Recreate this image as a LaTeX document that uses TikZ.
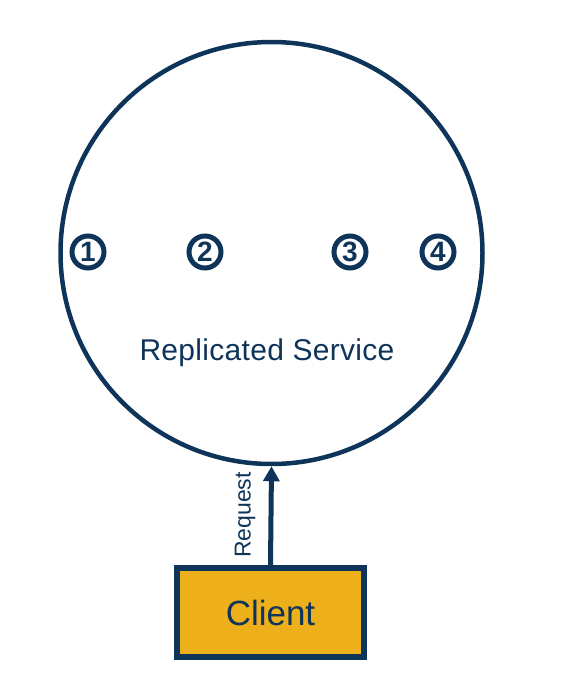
\documentclass[tikz,border=0pt]{standalone}
\usepackage{fontspec}
\setmainfont{Liberation Sans}
\usetikzlibrary{arrows.meta}
\definecolor{navy}{HTML}{0E3459}
\definecolor{gold}{HTML}{EDB01A}
\begin{document}
\begin{tikzpicture}[
    x=1pt, y=-1pt,
    ringstyle/.style={circle, draw=navy, line width=4.5pt, minimum size=422pt, inner sep=0pt},
    numstyle/.style={circle, draw=navy, line width=5pt, minimum size=32pt, inner sep=0pt, text=navy, font=\fontsize{28}{28}\selectfont\bfseries},
    clientstyle/.style={rectangle, draw=navy, fill=gold, line width=6pt, minimum width=187pt, minimum height=89pt, text=navy, font=\fontsize{35}{40}\selectfont},
    arrowstyle/.style={-{Triangle[length=15pt,width=16pt]}, draw=navy, line width=5pt}
]
    \useasboundingbox (0,0) rectangle (567,680);

    \node[ringstyle] (service) at (271.5,253) {};
    \node[text=navy, font=\fontsize{30}{34}\selectfont\addfontfeature{LetterSpace=1}] (servicename) at (267,353) {Replicated Service};

    \node[numstyle] (num1) at (88,252) {1};
    \node[numstyle] (num2) at (205,252) {2};
    \node[numstyle] (num3) at (350,252) {3};
    \node[numstyle] (num4) at (438,252) {4};

    \node[clientstyle] (client) at (270.5,612.5) {Client};

    \draw[arrowstyle] (client.north) -- (service.south);
    \node[text=navy, rotate=90, font=\fontsize{23}{28}\selectfont] (request) at (245,515) {Request};
\end{tikzpicture}
\end{document}
